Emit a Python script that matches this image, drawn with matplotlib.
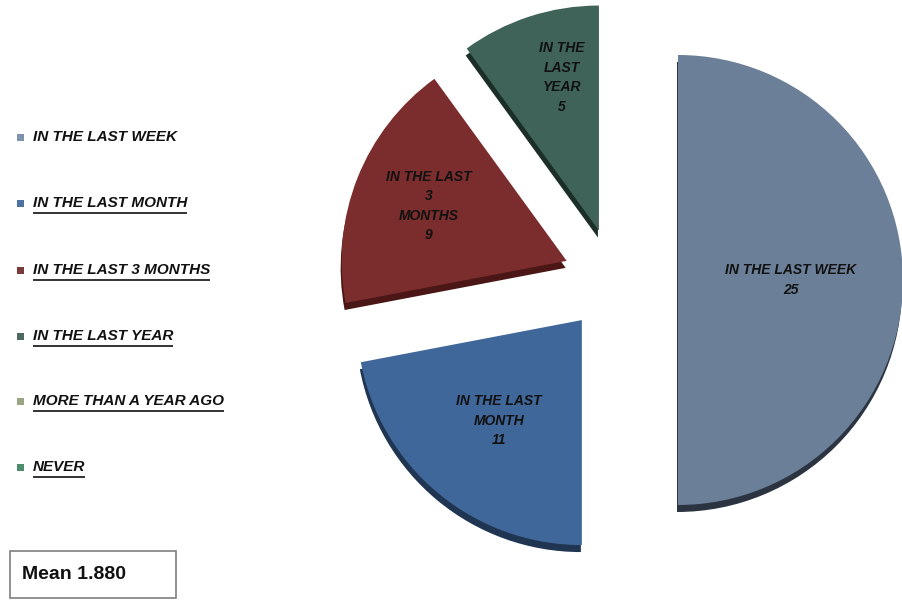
import numpy as np
import matplotlib.pyplot as plt
from matplotlib.patches import Rectangle

# Survey answers: when did it last happen
categories = ['IN THE LAST WEEK', 'IN THE LAST MONTH', 'IN THE LAST 3 MONTHS',
              'IN THE LAST YEAR', 'MORE THAN A YEAR AGO', 'NEVER']
counts = [25, 11, 9, 5, 0, 0]
slice_labels = ['IN THE LAST WEEK', 'IN THE LAST\nMONTH', 'IN THE LAST\n3\nMONTHS',
                'IN THE\nLAST\nYEAR', '', '']
mean_value = 1.880

colors = ['#6b7f98', '#40679a', '#7a2d2c', '#3f6358', '#9aa683', '#4e8c6e']
shade = ['#2b3440', '#1f3552', '#4a1616', '#1b2e28', '#5c6648', '#2c5240']
legend_colors = ['#7d93ab', '#4e73a0', '#7a3a3a', '#4e6a63', '#9aa683', '#4e8c6e']
# where each slice label sits: fraction of radius and angle nudge (deg)
text_frac = [0.5, 0.58, 0.66, 0.70, 0.6, 0.6]
text_turn = [0, 0, 0, -4.5, 0, 0]

R = 225
cx, cy = 615, 320
# explode distances in data units (pie does not scale them by radius)
explode_all = [63, 52, 52, 52, 52, 52]

# only non-empty slices are drawn, every category goes in the legend
keep = [i for i, v in enumerate(counts) if v > 0]
vals = [counts[i] for i in keep]
explode = [explode_all[i] for i in keep]

fig = plt.figure(figsize=(9.03, 6.0), dpi=100)
ax = fig.add_axes([0, 0, 1, 1])

# darker copy underneath gives the slab thickness
ax.pie(vals, colors=[shade[i] for i in keep], explode=explode, startangle=90,
       counterclock=False, radius=R, center=(cx - 1, cy - 7),
       wedgeprops=dict(linewidth=0))
wedges, _ = ax.pie(vals, colors=[colors[i] for i in keep], explode=explode,
                   startangle=90, counterclock=False, radius=R, center=(cx, cy),
                   wedgeprops=dict(linewidth=0))

lab_font = dict(family=['Liberation Sans', 'DejaVu Sans'], fontweight='bold',
                fontstyle='italic', fontsize=10, color='#111111')
for w, i in zip(wedges, keep):
    mid = np.deg2rad((w.theta1 + w.theta2) / 2 + text_turn[i])
    wx, wy = w.center
    r = text_frac[i] * w.r
    ax.text(wx + r * np.cos(mid), wy + r * np.sin(mid),
            f'{slice_labels[i]}\n{counts[i]}', ha='center', va='center',
            linespacing=1.5, **lab_font)

ax.set_xlim(0, 903)
ax.set_ylim(0, 600)
ax.set_aspect('equal')
ax.axis('off')

# legend down the left side
fig.canvas.draw()
renderer = fig.canvas.get_renderer()
row_y = 600 - np.array([137, 203, 270, 336, 401, 467])
for k, name in enumerate(categories):
    y = row_y[k]
    ax.add_patch(Rectangle((17, y - 3.5), 7, 7, facecolor=legend_colors[k],
                           edgecolor='none'))
    t = ax.text(33, y, name, ha='left', va='center', fontsize=11,
                family=['Liberation Sans', 'DejaVu Sans'], fontweight='bold',
                fontstyle='italic', color='#111111')
    if k > 0:
        bb = t.get_window_extent(renderer)
        ax.plot([33, 33 + bb.width], [y - 10, y - 10], color='#111111', lw=1.2,
                solid_capstyle='butt')

ax.add_patch(Rectangle((10, 2), 166, 47, facecolor='white', edgecolor='#7f7f7f',
                       lw=1.2))
ax.text(22, 25, f'Mean {mean_value:.3f}', ha='left', va='center', fontsize=14,
        family=['Liberation Sans', 'DejaVu Sans'], fontweight='bold',
        color='#111111')

fig.savefig('out.png', dpi=100)
